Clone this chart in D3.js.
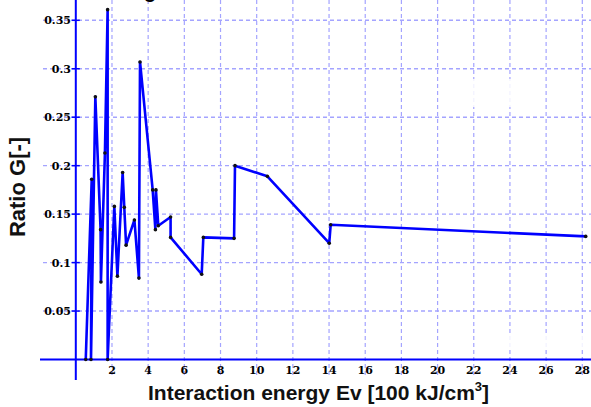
<!DOCTYPE html>
<html>
<head>
<meta charset="utf-8">
<script src="https://cdn.jsdelivr.net/npm/d3@7"></script>
<style>
  body { margin: 0; background: #fff; }
  svg { display: block; }
</style>
</head>
<body>
<div id="chart"></div>
<script>
// values
var energy = [0.55, 0.88, 0.84, 1.08, 1.37, 1.39, 1.61, 1.76, 1.76, 2.13, 2.30, 2.59, 2.68, 2.78,
              3.24, 3.49, 3.55, 4.25, 4.40, 4.43, 4.56, 5.24, 5.24, 6.96, 7.05, 8.75, 8.80,
              10.59, 14.01, 14.09, 28.19];
var ratio  = [0, 0.186, 0, 0.271, 0.134, 0.080, 0.213, 0.361, 0, 0.158, 0.086, 0.193, 0.157, 0.118,
              0.144, 0.084, 0.307, 0.175, 0.134, 0.175, 0.138, 0.147, 0.126, 0.088, 0.126, 0.125, 0.200,
              0.189, 0.120, 0.139, 0.127];
var xTicks = [2, 4, 6, 8, 10, 12, 14, 16, 18, 20, 22, 24, 26, 28];
var yTicks = [0.05, 0.1, 0.15, 0.2, 0.25, 0.3, 0.35];

var W = 591, H = 407;

var x = d3.scaleLinear().domain([0, 28]).range([75.8, 582.3]);
var y = d3.scaleLinear().domain([0, 0.35]).range([359.5, 20.3]);

var svg = d3.select('#chart').append('svg')
    .attr('width', W)
    .attr('height', H);

var gridColor = '#a4a4ff';

// grid
svg.append('g').selectAll('line')
    .data(yTicks)
  .enter().append('line')
    .attr('x1', 43).attr('x2', W)
    .attr('y1', function(d) { return y(d); })
    .attr('y2', function(d) { return y(d); })
    .attr('stroke', gridColor)
    .attr('stroke-width', 1.4)
    .attr('stroke-dasharray', '4,3');

svg.append('g').selectAll('line')
    .data(xTicks)
  .enter().append('line')
    .attr('x1', function(d) { return x(d); })
    .attr('x2', function(d) { return x(d); })
    .attr('y1', 0).attr('y2', 378)
    .attr('stroke', gridColor)
    .attr('stroke-width', 1.2)
    .attr('stroke-dasharray', '4,3');

// faint leftover boxes in the picture
svg.append('rect').attr('x', 463).attr('y', 79).attr('width', 54).attr('height', 28)
    .attr('fill', '#fff').attr('opacity', 0.85);
svg.append('rect').attr('x', 500).attr('y', 335).attr('width', 91).attr('height', 15)
    .attr('fill', '#fff').attr('opacity', 0.85);

// axes
svg.append('line')
    .attr('x1', 40).attr('x2', W)
    .attr('y1', y(0)).attr('y2', y(0))
    .attr('stroke', '#0000ff').attr('stroke-width', 2);
svg.append('line')
    .attr('x1', x(0)).attr('x2', x(0))
    .attr('y1', 0).attr('y2', 380)
    .attr('stroke', '#0000ff').attr('stroke-width', 2);

svg.append('g').selectAll('line')
    .data(yTicks)
  .enter().append('line')
    .attr('x1', x(0) - 4).attr('x2', x(0) + 4)
    .attr('y1', function(d) { return y(d); })
    .attr('y2', function(d) { return y(d); })
    .attr('stroke', '#0000ff').attr('stroke-width', 1.5);

// tick labels
svg.append('g').selectAll('text')
    .data(yTicks)
  .enter().append('text')
    .attr('x', 71)
    .attr('y', function(d) { return y(d) + 4; })
    .attr('text-anchor', 'end')
    .style('font', 'bold 11px "DejaVu Serif"')
    .attr('fill', '#000')
    .text(function(d) { return d; });

svg.append('g').selectAll('text')
    .data(xTicks)
  .enter().append('text')
    .attr('x', function(d) { return x(d); })
    .attr('y', 374)
    .attr('text-anchor', 'middle')
    .style('font', 'bold 11px "DejaVu Serif"')
    .attr('fill', '#000')
    .text(function(d) { return d; });

// data
var pts = energy.map(function(d, i) { return [d, ratio[i]]; });

var line = d3.line()
    .x(function(d) { return x(d[0]); })
    .y(function(d) { return y(d[1]); });

svg.append('path')
    .datum(pts)
    .attr('d', line)
    .attr('fill', 'none')
    .attr('stroke', '#0000ff')
    .attr('stroke-width', 2.6)
    .attr('stroke-linejoin', 'round');

svg.append('g').selectAll('circle')
    .data(pts)
  .enter().append('circle')
    .attr('cx', function(d) { return x(d[0]); })
    .attr('cy', function(d) { return y(d[1]); })
    .attr('r', 1.8)
    .attr('fill', '#111');

// titles (the chart title is cut off at the top edge, only a "g" shows)
svg.append('text')
    .attr('x', 150).attr('y', -2)
    .attr('text-anchor', 'middle')
    .style('font', 'bold 20px Arial, "Liberation Sans"')
    .text('g');

var xl = svg.append('text')
    .attr('x', 148).attr('y', 400)
    .style('font', 'bold 21px Arial, "Liberation Sans"')
    .attr('fill', '#111');
xl.append('tspan').text('Interaction energy Ev [100 kJ/cm');
xl.append('tspan').attr('dy', -9).style('font-size', '13px').text('3');
xl.append('tspan').attr('dy', 9).text(']');

svg.append('text')
    .attr('transform', 'translate(25,187) rotate(-90)')
    .attr('text-anchor', 'middle')
    .style('font', 'bold 22px Arial, "Liberation Sans"')
    .attr('fill', '#111')
    .text('Ratio G[-]');
</script>
</body>
</html>
